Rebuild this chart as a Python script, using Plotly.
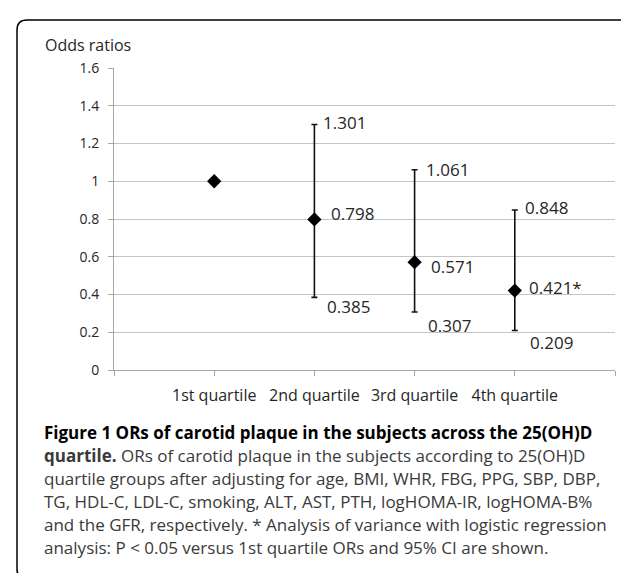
import plotly.graph_objects as go

# ---------------- data ----------------
categories = ["1st quartile", "2nd quartile", "3rd quartile", "4th quartile"]
odds_ratios = [1.0, 0.798, 0.571, 0.421]
ci_lower = [1.0, 0.385, 0.307, 0.209]
ci_upper = [1.0, 1.301, 1.061, 0.848]
significant = [False, False, False, True]
y_tick_values = [0, 0.2, 0.4, 0.6, 0.8, 1, 1.2, 1.4, 1.6]
y_tick_labels = ["0", "0.2", "0.4", "0.6", "0.8", "1", "1.2", "1.4", "1.6"]
y_axis_title = "Odds ratios"
caption_lines = [
    "<b>Figure 1 ORs of carotid plaque in the subjects across the 25(OH)D</b>",
    "<b>quartile.</b> ORs of carotid plaque in the subjects according to 25(OH)D",
    "quartile groups after adjusting for age, BMI, WHR, FBG, PPG, SBP, DBP,",
    "TG, HDL-C, LDL-C, smoking, ALT, AST, PTH, logHOMA-IR, logHOMA-B%",
    "and the GFR, respectively. * Analysis of variance with logistic regression",
    "analysis: P &lt; 0.05 versus 1st quartile ORs and 95% CI are shown.",
]

# ---------------- layout geometry (styles) ----------------
W, H = 629, 573
L, R, T, B = 106, 22, 60, 211
PW, PH = W - L - R, H - T - B


def px(x):
    return (x - L) / PW


def py(y):
    return (H - B - y) / PH


FONT = "Open Sans"
TXT = "#262626"

x_pos = [i + 1 for i in range(len(categories))]
err_plus = [u - v for u, v in zip(ci_upper, odds_ratios)]
err_minus = [v - l for v, l in zip(odds_ratios, ci_lower)]

fig = go.Figure()
fig.add_trace(go.Scatter(
    x=x_pos, y=odds_ratios, mode="markers",
    marker=dict(symbol="diamond", size=11, color="black"),
    error_y=dict(type="data", symmetric=False, array=err_plus, arrayminus=err_minus,
                 color="#111111", thickness=1.6, width=3),
    showlegend=False, hoverinfo="skip",
))

annotations = []
# per-label pixel offsets (style)
pt_off = [(0, 0), (15, 6), (14, -4), (12, 3)]
up_off = [(0, 0), (7, 2), (9, 0), (8, 2)]
lo_off = [(0, 0), (11, -9), (11, -13), (13, -12)]
for i, (xv, v, lo, up, sig) in enumerate(zip(x_pos, odds_ratios, ci_lower, ci_upper, significant)):
    if lo == v and up == v:
        continue
    for val, off, txt in [
        (v, pt_off[i], f"{v:.3f}" + ("*" if sig else "")),
        (up, up_off[i], f"{up:.3f}"),
        (lo, lo_off[i], f"{lo:.3f}"),
    ]:
        annotations.append(dict(
            x=xv, y=val, xref="x", yref="y", text=txt, showarrow=False,
            xanchor="left", yanchor="middle", xshift=off[0], yshift=off[1],
            font=dict(family=FONT, size=17, color=TXT),
        ))

annotations.append(dict(
    x=px(35), y=py(37), xref="paper", yref="paper", text=y_axis_title,
    showarrow=False, xanchor="left", yanchor="middle",
    font=dict(family=FONT, size=16, color=TXT),
))

for k, line in enumerate(caption_lines):
    annotations.append(dict(
        x=px(34), y=py(424 + 23 * k), xref="paper", yref="paper", text=line,
        showarrow=False, xanchor="left", yanchor="middle",
        font=dict(family=FONT, size=17, color="#3a3a3a" if k > 0 else "black"),
    ))

# rounded frame
x0, x1, y0, y1, r = 9, 628, 12, 571, 10
rx, ry = r / PW, r / PH
X0, X1, Y0, Y1 = px(x0), px(x1), py(y0), py(y1)
path = (f"M {X0+rx},{Y0} L {X1-rx},{Y0} Q {X1},{Y0} {X1},{Y0-ry} "
        f"L {X1},{Y1+ry} Q {X1},{Y1} {X1-rx},{Y1} "
        f"L {X0+rx},{Y1} Q {X0},{Y1} {X0},{Y1+ry} "
        f"L {X0},{Y0-ry} Q {X0},{Y0} {X0+rx},{Y0} Z")

fig.update_layout(
    width=W, height=H,
    margin=dict(l=L, r=R, t=T, b=B, autoexpand=False),
    paper_bgcolor="white", plot_bgcolor="white",
    annotations=annotations,
    shapes=[dict(type="path", path=path, xref="paper", yref="paper",
                 line=dict(color="black", width=1.5), layer="above")],
    xaxis=dict(
        range=[0, len(categories) + 1], showgrid=False, zeroline=False,
        tickmode="array", tickvals=list(range(len(categories) + 2)),
        ticktext=[""] + categories + [""],
        ticks="outside", ticklen=5, tickcolor="#a6a6a6", tickwidth=1,
        showline=True, linecolor="#a6a6a6", linewidth=1,
        tickfont=dict(family=FONT, size=16, color=TXT), ticklabelstandoff=6,
        fixedrange=True,
    ),
    yaxis=dict(
        range=[0, 1.6], tickmode="array", tickvals=y_tick_values, ticktext=y_tick_labels,
        showgrid=True, gridcolor="#c4c4c4", gridwidth=1, zeroline=False,
        ticks="outside", ticklen=5, tickcolor="#a6a6a6", tickwidth=1,
        showline=True, linecolor="#a6a6a6", linewidth=1,
        tickfont=dict(family=FONT, size=14, color=TXT), ticklabelstandoff=6,
        fixedrange=True,
    ),
)

fig.write_html("out.html")
